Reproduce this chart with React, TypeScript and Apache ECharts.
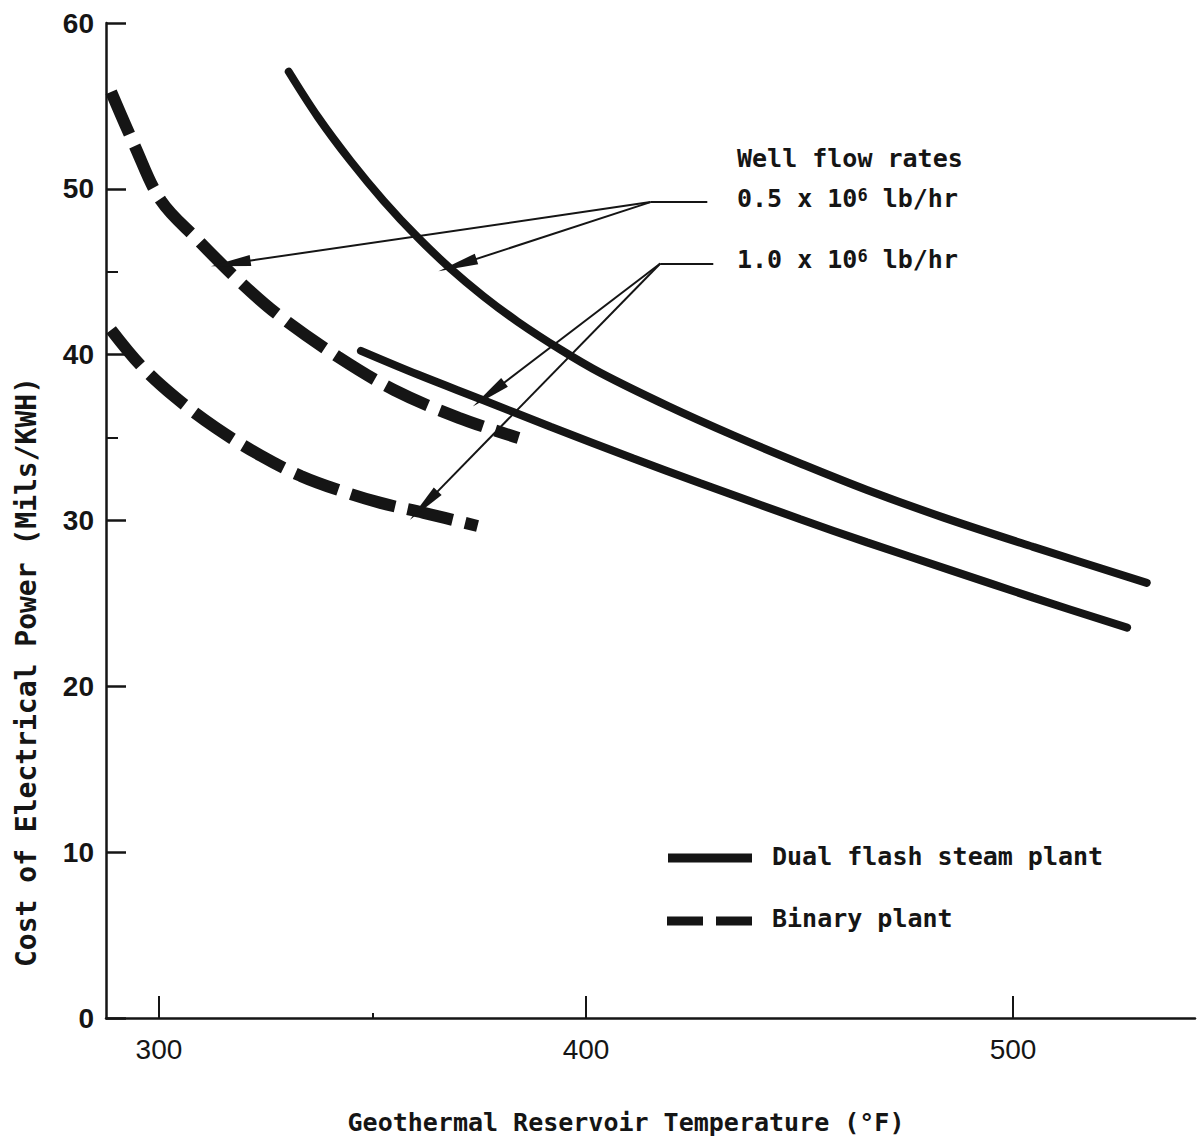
import React, { useEffect, useRef } from "react";
import * as echarts from "echarts";

// Cost of electrical power (mils/kWh) vs geothermal reservoir temperature (°F)
const dualFlash05: [number, number][] = [
  [330.4, 57.06], [337.2, 54.34], [344.9, 51.67], [352.6, 49.28], [360.6, 47.07],
  [368.3, 45.18], [376.0, 43.52], [384.0, 41.99], [394.0, 40.31], [403.4, 38.9],
  [419.1, 36.91], [434.5, 35.13], [450.2, 33.44], [465.8, 31.84], [483.6, 30.19],
  [504.7, 28.41], [531.3, 26.24],
];
const dualFlash10: [number, number][] = [
  [347.3, 40.23], [360.6, 38.8], [376.0, 37.25], [391.7, 35.65], [411.1, 33.74],
  [426.8, 32.25], [450.2, 30.08], [465.8, 28.68], [485.3, 27.01], [504.7, 25.35],
  [526.7, 23.54],
];
const binary05: [number, number][] = [
  [288.8, 55.85], [294.2, 52.66], [300.5, 49.28], [309.1, 46.92], [318.5, 44.51],
  [327.9, 42.4], [341.9, 39.87], [355.0, 37.88], [370.2, 36.19], [384.2, 34.98],
];
const binary10: [number, number][] = [
  [288.8, 41.5], [295.8, 39.33], [304.0, 37.39], [313.3, 35.59], [323.9, 33.9],
  [333.2, 32.69], [342.6, 31.79], [351.9, 31.06], [362.0, 30.46], [374.6, 29.67],
];

const xTicks = [300, 400, 500];
const xMinorTicks = [350];
const yMinorTicks = [35, 45];

// leader lines (data coordinates)
const leader05Hub: [number, number] = [415.1, 49.2];
const leader05End: [number, number] = [428.4, 49.2];
const leader05Tips: [number, number][] = [[316.8, 45.5], [369.9, 45.4]];
const leader10Hub: [number, number] = [417.4, 45.5];
const leader10End: [number, number] = [429.8, 45.5];
const leader10Tips: [number, number][] = [[377.2, 37.6], [362.0, 30.9]];

const INK = "#151515";
const MONO = "'DejaVu Sans Mono', 'Liberation Mono', monospace";
const NUM = "'Liberation Sans', Arial, sans-serif";

export default function App() {
  const ref = useRef<HTMLDivElement>(null);
  useEffect(() => {
    if (!ref.current) return;
    const chart = echarts.init(ref.current, undefined, { renderer: "svg" });

    const arrowSeg = (from: [number, number], to: [number, number]) => [
      { coord: from, symbol: "none" },
      { coord: to, symbol: "triangle", symbolSize: [11, 40] },
    ];
    const plainSeg = (from: [number, number], to: [number, number]) => [
      { coord: from, symbol: "none" },
      { coord: to, symbol: "none" },
    ];

    const solidStyle = { width: 8, color: INK, cap: "round" as const };
    const dashStyle = { width: 12, color: INK, type: [46, 13] as any, cap: "butt" as const };
    const lineCommon = { type: "line", showSymbol: false, smooth: 0.35 };

    chart.setOption({
      animation: false,
      backgroundColor: "#ffffff",
      grid: { left: 106, right: 6, top: 23, bottom: 121, containLabel: false },
      xAxis: [
        {
          type: "value",
          min: 287.6,
          max: 542.6,
          splitLine: { show: false },
          axisLine: { show: true, lineStyle: { color: INK, width: 2.5 } },
          axisTick: { show: true, inside: true, length: 22, customValues: xTicks, lineStyle: { color: INK, width: 2 } },
          axisLabel: { customValues: xTicks, color: INK, fontFamily: NUM, fontSize: 28, margin: 17 },
        },
        {
          type: "value",
          min: 287.6,
          max: 542.6,
          position: "bottom",
          splitLine: { show: false },
          axisLine: { show: false },
          axisTick: { show: true, inside: true, length: 5, customValues: xMinorTicks, lineStyle: { color: INK, width: 2 } },
          axisLabel: { show: false },
        },
      ],
      yAxis: [
        {
          type: "value",
          min: 0,
          max: 60,
          interval: 10,
          splitLine: { show: false },
          axisLine: { show: true, lineStyle: { color: INK, width: 2.5 } },
          axisTick: { show: true, inside: true, length: 20, lineStyle: { color: INK, width: 2.5 } },
          axisLabel: { color: INK, fontFamily: NUM, fontSize: 28, fontWeight: "bold", margin: 12 },
        },
        {
          type: "value",
          min: 0,
          max: 60,
          position: "left",
          splitLine: { show: false },
          axisLine: { show: false },
          axisTick: { show: true, inside: true, length: 12, customValues: yMinorTicks, lineStyle: { color: INK, width: 2 } },
          axisLabel: { show: false },
        },
      ],
      series: [
        {
          ...lineCommon,
          name: "Dual flash 0.5",
          data: dualFlash05,
          lineStyle: solidStyle,
          markLine: {
            silent: true,
            animation: false,
            label: { show: false },
            lineStyle: { color: INK, width: 2, type: "solid" },
            data: [
              plainSeg(leader05Hub, leader05End),
              arrowSeg(leader05Hub, leader05Tips[0]),
              arrowSeg(leader05Hub, leader05Tips[1]),
              plainSeg(leader10Hub, leader10End),
              arrowSeg(leader10Hub, leader10Tips[0]),
              arrowSeg(leader10Hub, leader10Tips[1]),
            ],
          },
        },
        { ...lineCommon, name: "Dual flash 1.0", data: dualFlash10, lineStyle: solidStyle },
        { ...lineCommon, name: "Binary 0.5", data: binary05, lineStyle: dashStyle },
        { ...lineCommon, name: "Binary 1.0", data: binary10, lineStyle: dashStyle },
      ],
      graphic: [
        {
          type: "text",
          left: 737,
          top: 146,
          style: { text: "Well flow rates", fill: INK, font: `bold 25px ${MONO}` },
        },
        {
          type: "text",
          left: 737,
          top: 186,
          style: {
            text: "0.5 x 10{sup|6} lb/hr",
            fill: INK,
            font: `bold 25px ${MONO}`,
            rich: { sup: { fontSize: 17, fontWeight: "bold", fontFamily: MONO, fill: INK, verticalAlign: "top" } },
          },
        },
        {
          type: "text",
          left: 737,
          top: 247,
          style: {
            text: "1.0 x 10{sup|6} lb/hr",
            fill: INK,
            font: `bold 25px ${MONO}`,
            rich: { sup: { fontSize: 17, fontWeight: "bold", fontFamily: MONO, fill: INK, verticalAlign: "top" } },
          },
        },
        // legend
        { type: "line", shape: { x1: 668, y1: 858, x2: 752, y2: 858 }, style: { stroke: INK, lineWidth: 9 } },
        { type: "text", left: 772, top: 844, style: { text: "Dual flash steam plant", fill: INK, font: `bold 25px ${MONO}` } },
        { type: "line", shape: { x1: 667, y1: 921, x2: 703, y2: 921 }, style: { stroke: INK, lineWidth: 9 } },
        { type: "line", shape: { x1: 716, y1: 921, x2: 752, y2: 921 }, style: { stroke: INK, lineWidth: 9 } },
        { type: "text", left: 772, top: 906, style: { text: "Binary plant", fill: INK, font: `bold 25px ${MONO}` } },
        // axis titles
        {
          type: "text",
          x: 626,
          y: 1122,
          style: { text: "Geothermal Reservoir Temperature (°F)", fill: INK, font: `bold 25px ${MONO}`, textAlign: "center", textVerticalAlign: "middle" },
        },
        {
          type: "text",
          x: 26,
          y: 672,
          rotation: Math.PI / 2,
          style: { text: "Cost of Electrical Power (Mils/KWH)", fill: INK, font: `bold 28px ${MONO}`, textAlign: "center", textVerticalAlign: "middle" },
        },
      ],
    });
    return () => chart.dispose();
  }, []);

  return (
    <div
      ref={ref}
      style={{ position: "absolute", left: 0, top: 0, width: 1201, height: 1139, background: "#fff" }}
    />
  );
}
